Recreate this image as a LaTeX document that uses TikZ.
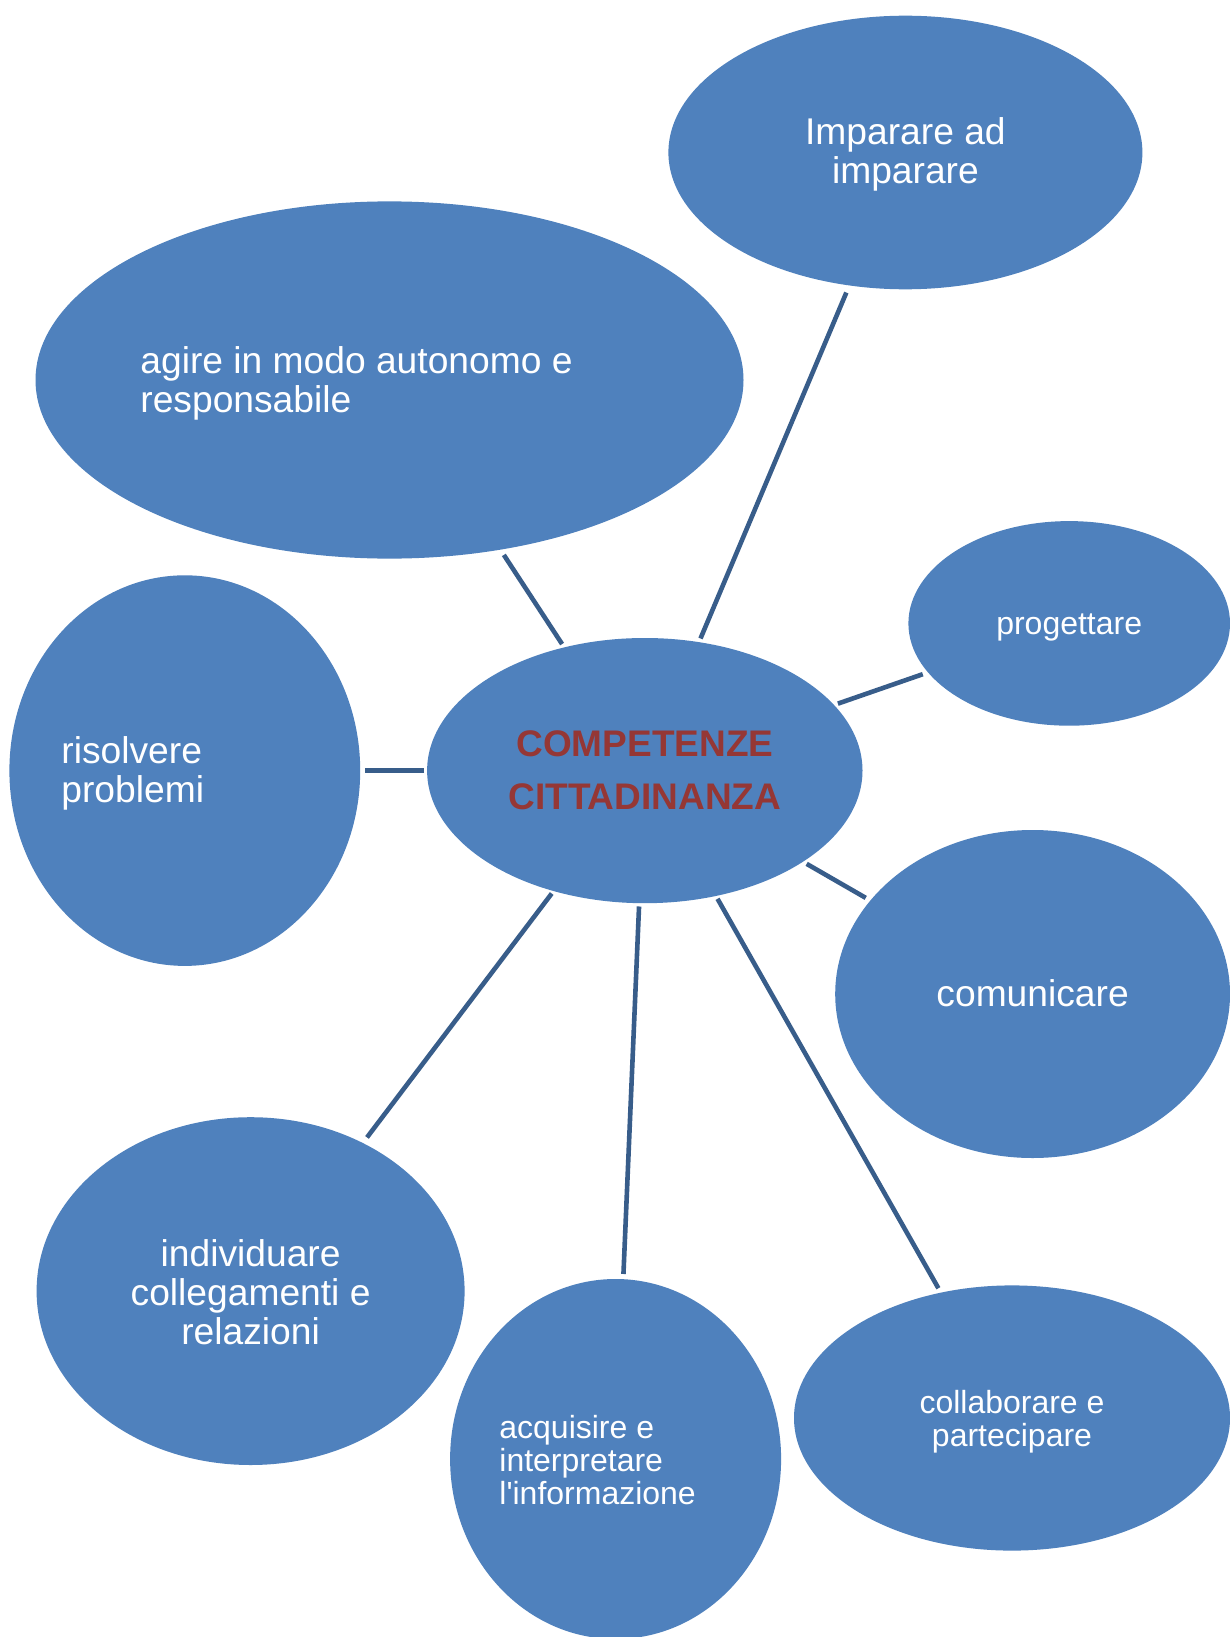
\documentclass[tikz,border=0pt]{standalone}
\usepackage{fontspec}
\setmainfont{Liberation Sans}
\usetikzlibrary{shapes.geometric}
\definecolor{blobfill}{HTML}{4F81BD}
\definecolor{linkcol}{HTML}{385D8A}
\definecolor{titlered}{HTML}{953735}
\tikzset{
  blob/.style 2 args={ellipse, fill=blobfill, draw=none, inner sep=0pt,
    minimum width=#1, minimum height=#2},
  link/.style 2 args={draw=linkcol, line width=2.3pt, line cap=butt,
    shorten <=#1, shorten >=#2},
  bigtxt/.style={text=white, inner sep=0pt, font=\fontsize{18.6pt}{19.4pt}\selectfont},
  smalltxt/.style={text=white, inner sep=0pt, font=\fontsize{16pt}{16.6pt}\selectfont},
  titletxt/.style={text=titlered, inner sep=0pt, align=center,
    font=\bfseries\fontsize{18.5pt}{26.6pt}\selectfont},
}
\begin{document}
\begin{tikzpicture}[x=0.5pt,y=-0.5pt]
\useasboundingbox (0,0) rectangle (1230,1637);
\fill[white] (0,0) rectangle (1230,1637);

% ellipses (widths and heights in pt)
\node[blob={217.7pt}{132.6pt}] (c)   at (644.8,770.6) {};
\node[blob={237pt}{136.8pt}]   (imp) at (905.4,152.5) {};
\node[blob={354pt}{178.6pt}]   (agi) at (389.5,380) {};
\node[blob={160.8pt}{102.3pt}] (pro) at (1069.2,623.4) {};
\node[blob={175.4pt}{195.3pt}] (ris) at (184.8,770.6) {};
\node[blob={197.4pt}{164pt}]   (com) at (1032.6,994) {};
\node[blob={214pt}{173.9pt}]   (ind) at (250.6,1291.1) {};
\node[blob={165.5pt}{180pt}]   (acq) at (615.6,1459) {};
\node[blob={218pt}{132.6pt}]   (col) at (1012,1418) {};

% connectors from the centre
\draw[link={71.7pt}{76pt}]    (c.center) -- (imp.center);
\draw[link={75.6pt}{104.5pt}] (c.center) -- (agi.center);
\draw[link={102.2pt}{77.5pt}] (c.center) -- (pro.center);
\draw[link={110.4pt}{90.1pt}] (c.center) -- (ris.center);
\draw[link={93.4pt}{96.3pt}]  (c.center) -- (com.center);
\draw[link={77.1pt}{96.4pt}]  (c.center) -- (ind.center);
\draw[link={68pt}{92.6pt}]    (c.center) -- (acq.center);
\draw[link={73.7pt}{74.6pt}]  (c.center) -- (col.center);

% labels
\node[titletxt] (tc) at (644.8,770.6) {COMPETENZE\\CITTADINANZA};
\node[bigtxt, align=center] (timp) at (905.4,154) {Imparare ad\\imparare};
\node[bigtxt, align=left, anchor=west] (tagi) at (140,383) {agire in modo autonomo e\\responsabile};
\node[smalltxt] (tpro) at (1069.2,627.5) {progettare};
\node[bigtxt, align=left, anchor=west] (tris) at (61,773.6) {risolvere\\problemi};
\node[bigtxt] (tcom) at (1032.6,993) {comunicare};
\node[bigtxt, align=center] (tind) at (250.6,1292) {individuare\\collegamenti e\\relazioni};
\node[smalltxt, align=left, anchor=west] (tacq) at (499,1460) {acquisire e\\interpretare\\l\textquotesingle informazione};
\node[smalltxt, align=center] (tcol) at (1012,1422) {collaborare e\\partecipare};
\end{tikzpicture}
\end{document}
